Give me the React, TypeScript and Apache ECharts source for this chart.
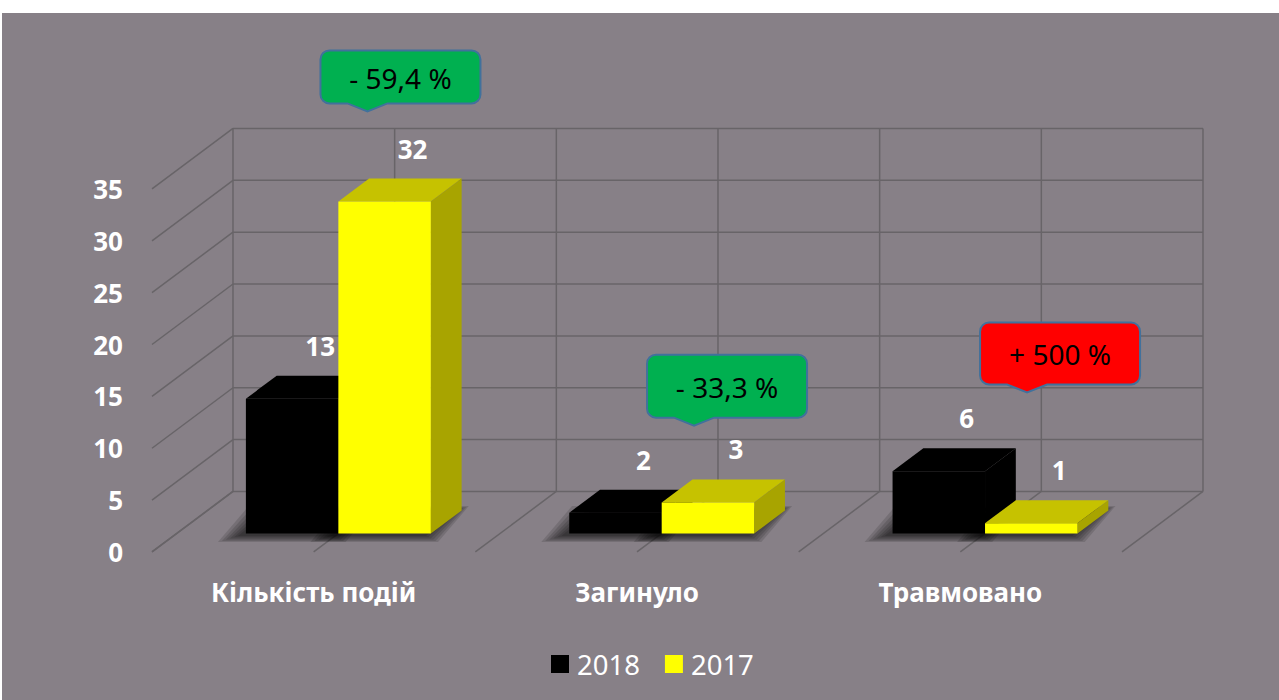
import React, { useEffect, useRef } from "react";
import * as echarts from "echarts";

// ---- data ----
const categories = ["Кількість подій", "Загинуло", "Травмовано"];
const seriesNames = ["2018", "2017"];
const values2018 = [13, 2, 6];
const values2017 = [32, 3, 1];
const yTicks = [0, 5, 10, 15, 20, 25, 30, 35];
const calloutTexts = ["- 59,4 %", "- 33,3 %", "+ 500 %"];
const calloutColors = ["#00B050", "#00B050", "#FF0000"];
// anchor of each callout pointer: [category index, value level, fraction of band to the right]
const calloutAnchors = [
  [0, 40.7, 0.09],
  [1, 10.4, 0.1],
  [2, 13.6, 0.13],
];
const calloutHeights = [53, 63, 62];

// ---- style / layout ----
const FONT = '"Noto Sans", "DejaVu Sans", sans-serif';
const BG = "#878087";
const LINE = "#686468";
const D = { x: 81, y: -60.5 }; // full depth vector (front -> back)
const F0 = 0.305; // depth of bar front plane
const BAR_DEPTH = 0.38;
const BAR_FRAC = 0.286;
const Y_MAX = 35;
const Y_INT = 5;

const CalloutShape = (echarts as any).graphic.extendShape({
  shape: { x: 0, y: 0, width: 0, height: 0, r: 8, tipX: 0, tipY: 0, half: 20 },
  buildPath(ctx: any, s: any) {
    const { x, y, width: w, height: h, r, tipX, tipY, half } = s;
    ctx.moveTo(x + r, y);
    ctx.lineTo(x + w - r, y);
    ctx.arc(x + w - r, y + r, r, -Math.PI / 2, 0);
    ctx.lineTo(x + w, y + h - r);
    ctx.arc(x + w - r, y + h - r, r, 0, Math.PI / 2);
    ctx.lineTo(tipX + half, y + h);
    ctx.lineTo(tipX, tipY);
    ctx.lineTo(tipX - half, y + h);
    ctx.lineTo(x + r, y + h);
    ctx.arc(x + r, y + h - r, r, Math.PI / 2, Math.PI);
    ctx.lineTo(x, y + r);
    ctx.arc(x + r, y + r, r, Math.PI, Math.PI * 1.5);
    ctx.closePath();
  },
});
try {
  (echarts as any).graphic.registerShape("callout", CalloutShape);
} catch (e) {}

function barGeom(side: number, params: any, api: any) {
  const idx = api.value(0);
  const val = api.value(1);
  const base = api.coord([idx, 0]);
  const tp = api.coord([idx, val]);
  const band = api.size([1, 0])[0];
  const bw = band * BAR_FRAC;
  const x0 = side < 0 ? base[0] - bw : base[0];
  return { val, x0, x1: x0 + bw, bw, yb: base[1], yt: tp[1], dx: D.x * BAR_DEPTH, dy: D.y * BAR_DEPTH };
}

function barRenderer(side: number, front: string, top: string, sideCol: string) {
  return (params: any, api: any) => {
    const { x0, x1, bw, yb, yt, dx, dy } = barGeom(side, params, api);
    const shadows: any[] = [];
    for (let k = 0; k < 6; k++) {
      const e = 2 + k * 4;
      const sx = -6;
      shadows.push({
        type: "polygon",
        shape: {
          points: [
            [x0 + sx - e, yb + 2 + e * 0.3],
            [x1 + sx + e * 0.6, yb + 2 + e * 0.3],
            [x1 + dx + sx + e * 0.6, yb + dy - e * 0.2],
            [x0 + dx + sx - e, yb + dy - e * 0.2],
          ],
        },
        style: { fill: "rgba(0,0,0,0.13)" },
      });
    }
    return {
      type: "group",
      children: [
        ...shadows,
        {
          type: "polygon",
          shape: { points: [[x0, yt], [x1, yt], [x1 + dx, yt + dy], [x0 + dx, yt + dy]] },
          style: { fill: top },
        },
        {
          type: "polygon",
          shape: { points: [[x1, yt], [x1 + dx, yt + dy], [x1 + dx, yb + dy], [x1, yb]] },
          style: { fill: sideCol },
        },
        {
          type: "rect",
          shape: { x: x0, y: yt, width: bw, height: yb - yt },
          style: { fill: front },
        },
      ],
    };
  };
}

function labelRenderer(side: number) {
  return (params: any, api: any) => {
    const { val, x0, x1, yt } = barGeom(side, params, api);
    return {
      type: "text",
      x: (x0 + x1) / 2 + 28,
      y: yt - 53,
      style: {
        text: String(val),
        fill: "#ffffff",
        font: `bold 26px ${FONT}`,
        align: "center",
        verticalAlign: "middle",
      },
    };
  };
}

function frameRenderer(params: any, api: any) {
  const band = api.size([1, 0])[0];
  const c0 = api.coord([0, 0]);
  const left = c0[0] - band / 2;
  const n = categories.length;
  const fx = -F0 * D.x, fy = -F0 * D.y;
  const bx = (1 - F0) * D.x, by = (1 - F0) * D.y;
  const lines: any[] = [];
  const seg = (x1: number, y1: number, x2: number, y2: number) =>
    lines.push({
      type: "line",
      shape: { x1, y1, x2, y2 },
      style: { stroke: LINE, lineWidth: 1.5 },
    });
  const y0 = api.coord([0, 0])[1];
  const yTop = api.coord([0, Y_MAX])[1];
  yTicks.forEach((v) => {
    const y = api.coord([0, v])[1];
    seg(left + bx, y + by, left + band * n + bx, y + by);
    seg(left + bx, y + by, left + fx, y + fy);
  });
  for (let k = 0; k <= 2 * n; k++) {
    const x = left + (k * band) / 2;
    seg(x + bx, y0 + by, x + bx, yTop + by);
    seg(x + bx, y0 + by, x + fx, y0 + fy);
  }
  return { type: "group", children: lines };
}

function calloutRenderer(params: any, api: any) {
  const i = params.dataIndex;
  const idx = api.value(0);
  const lvl = api.value(1);
  const frac = api.value(2);
  const band = api.size([1, 0])[0];
  const p = api.coord([idx, lvl]);
  const tipX = p[0] + frac * band;
  const tipY = p[1];
  const w = 160;
  const h = calloutHeights[i];
  const cx = tipX + 33;
  const bottom = tipY - 8;
  return {
    type: "group",
    children: [
      {
        type: "callout",
        shape: { x: cx - w / 2, y: bottom - h, width: w, height: h, r: 9, tipX, tipY, half: 20 },
        style: { fill: calloutColors[i], stroke: "#41719C", lineWidth: 2 },
      },
      {
        type: "text",
        x: cx,
        y: bottom - h / 2 + 1,
        style: {
          text: calloutTexts[i],
          fill: "#000000",
          font: `28px ${FONT}`,
          align: "center",
          verticalAlign: "middle",
        },
      },
    ],
  };
}

export default function App() {
  const ref = useRef<HTMLDivElement>(null);
  useEffect(() => {
    if (!ref.current) return;
    const chart = echarts.init(ref.current, null, { renderer: "svg" });
    const d18 = values2018.map((v, i) => [i, v]);
    const d17 = values2017.map((v, i) => [i, v]);
    const option: any = {
      animation: false,
      backgroundColor: BG,
      textStyle: { fontFamily: FONT },
      legend: {
        data: seriesNames,
        left: 549,
        top: 637,
        padding: 0,
        icon: "rect",
        itemWidth: 18,
        itemHeight: 18,
        itemGap: 25,
        textStyle: { color: "#ffffff", fontSize: 27.5, fontFamily: FONT, padding: [0, 0, 0, 3] },
      },
      grid: [
        { left: 174.7, right: 132.3, top: 157.5, bottom: 166.5 },
        { left: 150, right: 157, top: 176, bottom: 148 },
      ],
      xAxis: [
        { type: "category", gridIndex: 0, data: categories, show: false },
        {
          type: "category",
          gridIndex: 1,
          data: categories,
          axisLine: { show: false },
          axisTick: { show: false },
          splitLine: { show: false },
          axisLabel: {
            color: "#ffffff",
            fontSize: 26,
            fontWeight: "bold",
            fontFamily: FONT,
            margin: 27,
            interval: 0,
          },
        },
      ],
      yAxis: [
        { type: "value", gridIndex: 0, min: 0, max: Y_MAX, interval: Y_INT, show: false },
        {
          type: "value",
          gridIndex: 1,
          min: 0,
          max: Y_MAX,
          interval: Y_INT,
          axisLine: { show: false },
          axisTick: { show: false },
          splitLine: { show: false },
          axisLabel: {
            color: "#ffffff",
            fontSize: 26,
            fontWeight: "bold",
            fontFamily: FONT,
            margin: 29,
          },
        },
      ],
      series: [
        {
          type: "custom",
          name: "frame",
          xAxisIndex: 0,
          yAxisIndex: 0,
          data: [[0, 0]],
          renderItem: frameRenderer,
          z: 1,
          silent: true,
        },
        {
          type: "custom",
          name: seriesNames[0],
          xAxisIndex: 0,
          yAxisIndex: 0,
          itemStyle: { color: "#000000" },
          data: d18,
          renderItem: barRenderer(-1, "#000000", "#000000", "#000000"),
          z: 3,
        },
        {
          type: "custom",
          name: seriesNames[1],
          xAxisIndex: 0,
          yAxisIndex: 0,
          itemStyle: { color: "#FFFF00" },
          data: d17,
          renderItem: barRenderer(0, "#FFFF00", "#C6C200", "#A8A400"),
          z: 4,
        },
        {
          type: "custom",
          name: "labels2018",
          xAxisIndex: 0,
          yAxisIndex: 0,
          data: d18,
          renderItem: labelRenderer(-1),
          z: 5,
          silent: true,
        },
        {
          type: "custom",
          name: "labels2017",
          xAxisIndex: 0,
          yAxisIndex: 0,
          data: d17,
          renderItem: labelRenderer(0),
          z: 5,
          silent: true,
        },
        {
          type: "custom",
          name: "callouts",
          xAxisIndex: 0,
          yAxisIndex: 0,
          data: calloutAnchors,
          renderItem: calloutRenderer,
          z: 6,
          silent: true,
        },
      ],
    };
    chart.setOption(option);
    return () => chart.dispose();
  }, []);
  return (
    <div
      ref={ref}
      style={{ position: "fixed", left: 2, top: 13, width: 1277, height: 687 }}
    />
  );
}
